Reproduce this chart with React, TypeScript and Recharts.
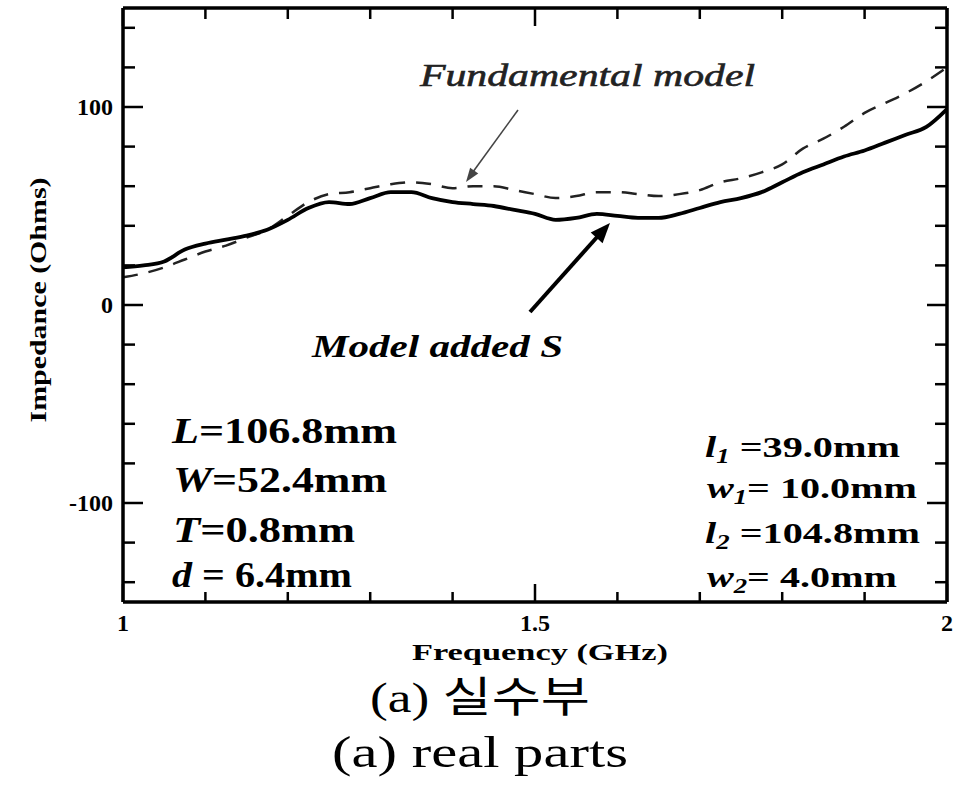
import { LineChart, Line, XAxis, YAxis } from 'recharts';

// frequency samples (GHz)
const freq = [
  1.0, 1.025, 1.05, 1.075, 1.1, 1.125, 1.15, 1.175, 1.2, 1.225,
  1.25, 1.275, 1.3, 1.325, 1.35, 1.375, 1.4, 1.425, 1.45, 1.475,
  1.5, 1.525, 1.55, 1.575, 1.6, 1.625, 1.65, 1.675, 1.7, 1.725,
  1.75, 1.775, 1.8, 1.825, 1.85, 1.875, 1.9, 1.925, 1.95, 1.975, 2.0,
];

// Model added S (solid)
const modelAddedS = [
  19, 20, 22, 28, 31, 33, 35, 38, 43, 49,
  52, 51, 54, 57, 57, 54, 52, 51, 50, 48,
  46, 43, 44, 46, 45, 44, 44, 46, 49, 52,
  54, 57, 62, 67, 71, 75, 78, 82, 86, 90, 99,
];

// Fundamental model (dashed)
const fundamentalModel = [
  14, 16, 19, 23, 27, 30, 34, 38, 45, 52,
  56, 57, 59, 61, 62, 61, 59, 60, 60, 58,
  56, 54, 55, 57, 57, 56, 55, 56, 58, 62,
  64, 67, 71, 79, 84, 90, 97, 102, 107, 113, 120,
];

const xTicks = [1, 1.1, 1.2, 1.3, 1.4, 1.5, 1.6, 1.7, 1.8, 1.9, 2];
const xLabels = [1, 1.5, 2];
const yTicks = [-140, -120, -100, -80, -60, -40, -20, 0, 20, 40, 60, 80, 100, 120, 140];
const yLabels = [-100, 0, 100];

const data = freq.map((f, i) => ({ f, s: modelAddedS[i], fm: fundamentalModel[i] }));

const serif = '"Liberation Serif", "Times New Roman", serif';
const isMajor = (v: number, list: number[]) => list.some((l) => Math.abs(l - v) < 1e-6);

function BottomTick({ x, y, payload }: any) {
  const major = isMajor(payload.value, xLabels);
  return (
    <g>
      <line x1={x} x2={x} y1={y} y2={y - (major ? 18 : 10)} stroke="#000" strokeWidth={2.5} />
      {major && (
        <text x={x} y={y + 29} textAnchor="middle" fontFamily={serif} fontWeight="bold" fontSize={24} fill="#000">
          {payload.value}
        </text>
      )}
    </g>
  );
}

function TopTick({ x, y, payload }: any) {
  const major = isMajor(payload.value, xLabels);
  return <line x1={x} x2={x} y1={y} y2={y + (major ? 18 : 11)} stroke="#000" strokeWidth={2.5} />;
}

function LeftTick({ x, y, payload }: any) {
  const major = isMajor(payload.value, yLabels);
  return (
    <g>
      <line x1={x} x2={x + (major ? 20 : 12)} y1={y} y2={y} stroke="#000" strokeWidth={2.5} />
      {major && (
        <text x={x - 10} y={y + 8} textAnchor="end" fontFamily={serif} fontWeight="bold" fontSize={24} fill="#000">
          {payload.value}
        </text>
      )}
    </g>
  );
}

function RightTick({ x, y, payload }: any) {
  const major = isMajor(payload.value, yLabels);
  return <line x1={x} x2={x - (major ? 20 : 12)} y1={y} y2={y} stroke="#000" strokeWidth={2.5} />;
}

function arrowHead(ax: number, ay: number, bx: number, by: number, h: number, w: number) {
  const len = Math.hypot(bx - ax, by - ay);
  const ux = (bx - ax) / len;
  const uy = (by - ay) / len;
  const nx = -uy;
  const ny = ux;
  const px = bx - h * ux;
  const py = by - h * uy;
  return `${bx},${by} ${px + w * nx},${py + w * ny} ${px - w * nx},${py - w * ny}`;
}

function Annotations() {
  return (
    <svg width={956} height={789} style={{ position: 'absolute', left: 0, top: 0, pointerEvents: 'none' }}>
      {/* arrow to fundamental model */}
      <line x1={518} y1={110} x2={470} y2={176} stroke="#444" strokeWidth={1.6} />
      <polygon points={arrowHead(518, 110, 466, 182, 14, 5)} fill="#444" />
      <text x={420} y={86} fontFamily={serif} fontStyle="italic" fontSize={32} fill="#222" stroke="#222"
        strokeWidth={0.6} textLength={335} lengthAdjust="spacingAndGlyphs">Fundamental model</text>

      {/* arrow to model added S */}
      <line x1={530} y1={312} x2={598} y2={236} stroke="#000" strokeWidth={4} />
      <polygon points={arrowHead(530, 312, 610, 223, 20, 8)} fill="#000" />
      <text x={312} y={357} fontFamily={serif} fontStyle="italic" fontWeight="bold" fontSize={32} fill="#000"
        textLength={251} lengthAdjust="spacingAndGlyphs">Model added S</text>

      {/* left parameter block */}
      <g fontFamily={serif} fontWeight="bold" fontSize={36} fill="#000">
        <text x={172} y={443} textLength={225} lengthAdjust="spacingAndGlyphs">
          <tspan fontStyle="italic">L</tspan>=106.8mm
        </text>
        <text x={173} y={492} textLength={214} lengthAdjust="spacingAndGlyphs">
          <tspan fontStyle="italic">W</tspan>=52.4mm
        </text>
        <text x={173} y={542} textLength={182} lengthAdjust="spacingAndGlyphs">
          <tspan fontStyle="italic">T</tspan>=0.8mm
        </text>
        <text x={172} y={587} textLength={180} lengthAdjust="spacingAndGlyphs">
          <tspan fontStyle="italic">d</tspan> = 6.4mm
        </text>
      </g>

      {/* right parameter block */}
      <g fontFamily={serif} fontWeight="bold" fontSize={30} fill="#000">
        <text x={705} y={457} textLength={195} lengthAdjust="spacingAndGlyphs">
          <tspan fontStyle="italic">l</tspan><tspan fontStyle="italic" fontSize={20} dy={6}>1</tspan><tspan dy={-6}> =39.0mm</tspan>
        </text>
        <text x={707} y={498} textLength={210} lengthAdjust="spacingAndGlyphs">
          <tspan fontStyle="italic">w</tspan><tspan fontStyle="italic" fontSize={20} dy={6}>1</tspan><tspan dy={-6}>= 10.0mm</tspan>
        </text>
        <text x={705} y={543} textLength={215} lengthAdjust="spacingAndGlyphs">
          <tspan fontStyle="italic">l</tspan><tspan fontStyle="italic" fontSize={20} dy={6}>2</tspan><tspan dy={-6}> =104.8mm</tspan>
        </text>
        <text x={707} y={587} textLength={190} lengthAdjust="spacingAndGlyphs">
          <tspan fontStyle="italic">w</tspan><tspan fontStyle="italic" fontSize={20} dy={6}>2</tspan><tspan dy={-6}>= 4.0mm</tspan>
        </text>
      </g>

      {/* axis titles */}
      <text x={46} y={300} transform="rotate(-90 46 300)" textAnchor="middle" fontFamily={serif} fontWeight="bold"
        fontSize={23} fill="#000" textLength={245} lengthAdjust="spacingAndGlyphs">Impedance (Ohms)</text>
      <text x={412} y={660} fontFamily={serif} fontWeight="bold" fontSize={24} fill="#000"
        textLength={256} lengthAdjust="spacingAndGlyphs">Frequency (GHz)</text>

      {/* captions */}
      <text x={370} y={712} fontFamily={`${serif}, "Noto Sans CJK KR"`} fontSize={42} fill="#000"
        textLength={220} lengthAdjust="spacingAndGlyphs">(a) 실수부</text>
      <text x={332} y={767} fontFamily={serif} fontSize={44} fill="#000"
        textLength={296} lengthAdjust="spacingAndGlyphs">(a) real parts</text>
    </svg>
  );
}

export default function App() {
  return (
    <div style={{ position: 'absolute', left: 0, top: 0, width: 956, height: 789, background: '#fff' }}>
      <LineChart width={956} height={789} data={data} margin={{ top: 7, right: 8, bottom: 186, left: 122 }}>
        <XAxis dataKey="f" type="number" domain={[1, 2]} ticks={xTicks} interval={0} height={1}
          tickSize={0} tickMargin={0} tickLine={false} tick={(p: any) => <BottomTick {...p} />}
          axisLine={{ stroke: '#000', strokeWidth: 3.5 }} allowDataOverflow />
        <XAxis xAxisId="top" orientation="top" dataKey="f" type="number" domain={[1, 2]} ticks={xTicks} interval={0}
          height={1} tickSize={0} tickMargin={0} tickLine={false} tick={(p: any) => <TopTick {...p} />}
          axisLine={{ stroke: '#000', strokeWidth: 3.5 }} allowDataOverflow />
        <YAxis type="number" domain={[-150, 150]} ticks={yTicks} interval={0} width={1}
          tickSize={0} tickMargin={0} tickLine={false} tick={(p: any) => <LeftTick {...p} />}
          axisLine={{ stroke: '#000', strokeWidth: 3.5 }} allowDataOverflow />
        <YAxis yAxisId="right" orientation="right" type="number" domain={[-150, 150]} ticks={yTicks} interval={0}
          width={1} tickSize={0} tickMargin={0} tickLine={false} tick={(p: any) => <RightTick {...p} />}
          axisLine={{ stroke: '#000', strokeWidth: 3.5 }} allowDataOverflow />
        <Line dataKey="fm" type="monotone" stroke="#222" strokeWidth={2.5} strokeDasharray="15 11"
          dot={false} isAnimationActive={false} />
        <Line dataKey="s" type="monotone" stroke="#000" strokeWidth={3.8}
          dot={false} isAnimationActive={false} />
      </LineChart>
      <Annotations />
    </div>
  );
}
